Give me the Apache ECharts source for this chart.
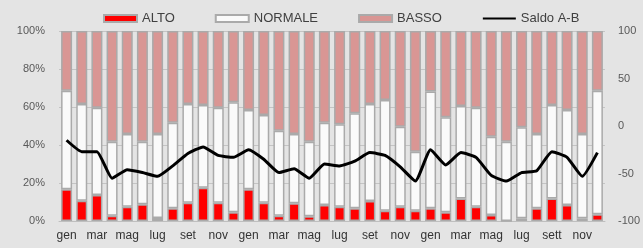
<!DOCTYPE html>
<html>
<head>
<meta charset="utf-8">
<script src="https://cdn.jsdelivr.net/npm/echarts@6/dist/echarts.min.js"></script>
<style>
  html, body { margin: 0; padding: 0; background: #e3e3e3; }
  #chart { width: 643px; height: 248px; }
</style>
</head>
<body>
<div id="chart"></div>
<script>
// mesi (36), un'etichetta ogni due
const mesi = ['gen', 'feb', 'mar', 'apr', 'mag', 'giu', 'lug', 'ago', 'set', 'ott', 'nov', 'dic',
  'gen', 'feb', 'mar', 'apr', 'mag', 'giu', 'lug', 'ago', 'set', 'ott', 'nov', 'dic',
  'gen', 'feb', 'mar', 'apr', 'mag', 'giu', 'lug', 'ago', 'sett', 'ott', 'nov', 'dic']

const alto = [16.7, 10.7, 13.7, 2.8, 7.5, 8.8, 1.6, 6.7, 9.6, 17.5, 9.6, 4.6,
  16.7, 9.6, 2.8, 9.3, 2.5, 8.4, 7.5, 6.7, 10.5, 5.4, 7.5, 5.4,
  6.7, 4.6, 11.9, 7.5, 3.2, 0, 1.4, 6.7, 11.9, 8.4, 1.4, 3.5]
const normale = [51.9, 50.9, 45.9, 38.9, 38.3, 32.9, 44.2, 45.0, 52.0, 43.5, 50.0, 57.9,
  41.7, 46.2, 44.7, 36.5, 39.2, 43.3, 43.4, 50.0, 51.1, 58.3, 42.1, 31.1,
  61.4, 50.0, 48.6, 52.1, 41.2, 41.7, 47.9, 39.1, 49.1, 50.0, 44.4, 65.1]
const basso = [31.4, 38.4, 40.4, 58.3, 54.2, 58.3, 54.2, 48.3, 38.4, 39.0, 40.4, 37.5,
  41.6, 44.2, 52.5, 54.2, 58.3, 48.3, 49.1, 43.3, 38.4, 36.3, 50.4, 63.5,
  31.9, 45.4, 39.5, 40.4, 55.6, 58.3, 50.7, 54.2, 39.0, 41.6, 54.2, 31.4]
const saldo = [-15, -27, -27, -55, -46, -49, -53, -42, -29, -22, -31, -33,
  -25, -35, -49, -45, -55, -40, -42, -37, -28, -31, -43, -58,
  -25, -41, -28, -33, -52, -58, -49, -47, -27, -33, -53, -28]

const myChart = echarts.init(document.getElementById('chart'), null, {renderer: 'canvas'})

const barBase = {
  type: 'bar',
  stack: 'tot',
  barWidth: 11,
  yAxisIndex: 0,
}

myChart.setOption({
  backgroundColor: '#e4e4e4',
  animation: false,
  textStyle: { fontFamily: 'Liberation Sans' },
  legend: {
    top: 7,
    left: 98,
    itemGap: 40,
    itemWidth: 33,
    itemHeight: 7,
    textStyle: { fontSize: 13, color: '#404040' },
    data: [
      { name: 'ALTO', icon: 'rect' },
      { name: 'NORMALE', icon: 'rect' },
      { name: 'BASSO', icon: 'rect' },
      { name: 'Saldo A-B', itemStyle: { opacity: 0 } }
    ]
  },
  grid: {
    left: 59,
    right: 37,
    top: 31,
    bottom: 27
  },
  xAxis: {
    type: 'category',
    data: mesi,
    axisLine: { lineStyle: { color: '#bfbfbf' } },
    axisTick: { show: false },
    axisLabel: {
      interval: 1,
      margin: 9,
      fontSize: 12,
      color: '#333'
    }
  },
  yAxis: [
    {
      type: 'value',
      min: 0,
      max: 100,
      interval: 20,
      axisLine: { show: false },
      axisTick: { show: false },
      axisLabel: { formatter: '{value}%', fontSize: 11, color: '#595959', margin: 14 },
      splitLine: { lineStyle: { color: '#c4c4c4' } }
    },
    {
      type: 'value',
      min: -100,
      max: 100,
      interval: 50,
      axisLine: { show: false },
      axisTick: { show: false },
      axisLabel: { fontSize: 11, color: '#595959', margin: 13 },
      splitLine: { show: false }
    }
  ],
  series: [
    {
      ...barBase,
      name: 'ALTO',
      data: alto,
      itemStyle: { color: '#ff0000', borderColor: '#aaaaaa', borderWidth: 1.5 }
    },
    {
      ...barBase,
      name: 'NORMALE',
      data: normale,
      itemStyle: { color: '#fafafa', borderColor: '#aaaaaa', borderWidth: 1.5 }
    },
    {
      ...barBase,
      name: 'BASSO',
      data: basso,
      itemStyle: { color: '#d99694', borderColor: '#aaaaaa', borderWidth: 1.5 }
    },
    {
      name: 'Saldo A-B',
      type: 'line',
      yAxisIndex: 1,
      data: saldo,
      symbol: 'none',
      smooth: 0.15,
      lineStyle: { color: '#000', width: 3 },
      itemStyle: { color: '#000' },
      z: 5
    }
  ]
})
</script>
</body>
</html>
